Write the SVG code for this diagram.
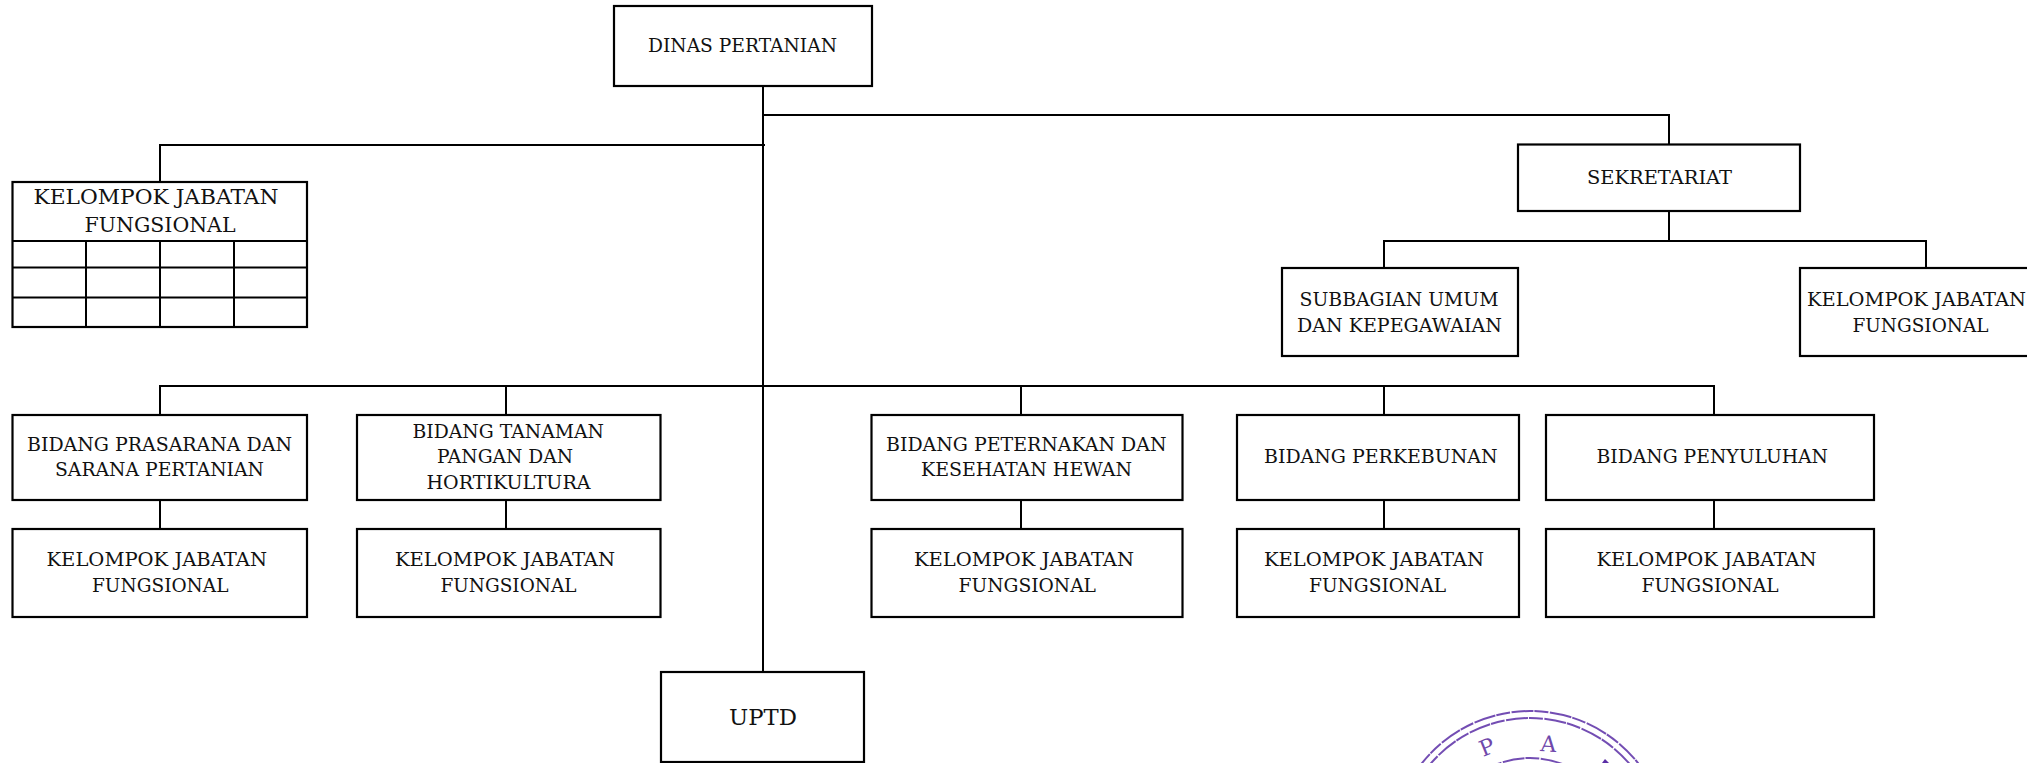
<svg xmlns="http://www.w3.org/2000/svg" width="2027" height="763" viewBox="0 0 2027 763">
<style>
.b{fill:#fff;stroke:#000;stroke-width:2.2}
.c{fill:none;stroke:#000;stroke-width:2}
.t{font-family:"DejaVu Serif","Liberation Serif",serif;font-size:18px;fill:#111}
.l{font-size:20px}
.u{font-size:23px}
.s{fill:none;stroke:#5a2ea6;stroke-width:2;stroke-dasharray:14 1.500 22 1;opacity:.85}
.st{font-family:"DejaVu Serif","Liberation Serif",serif;font-size:22px;fill:#6f48ab}
</style>
<rect width="2027" height="763" fill="#fff"/>
<g id="connectors" class="c">
<path d="M763 86V672"/>
<path d="M763 115H1669V144"/>
<path d="M765 145H160V182"/>
<path d="M1669 211V241"/>
<path d="M1384 268V241H1926V268"/>
<path d="M160 415V386H1714V415"/>
<path d="M506 386V415"/>
<path d="M1021 386V415"/>
<path d="M1384 386V415"/>
<path d="M160 500V529"/>
<path d="M506 500V529"/>
<path d="M1021 500V529"/>
<path d="M1384 500V529"/>
<path d="M1714 500V529"/>
</g>
<g id="dinas"><rect class="b" x="614" y="6" width="258" height="80"/><text class="t" x="648" y="52" textLength="189" lengthAdjust="spacingAndGlyphs">DINAS PERTANIAN</text></g>
<g id="kjf-top">
<rect class="b" x="12.500" y="182" width="294.500" height="145"/>
<path class="c" d="M12.500 241H307M12.500 267.500H307M12.500 297.500H307M86 241V327M160 241V327M234 241V327"/>
<text class="t l" x="33.500" y="204" textLength="245" lengthAdjust="spacingAndGlyphs">KELOMPOK JABATAN</text>
<text class="t l" x="84.500" y="232" textLength="151" lengthAdjust="spacingAndGlyphs">FUNGSIONAL</text>
</g>
<g id="sekretariat"><rect class="b" x="1518" y="144.500" width="282" height="66.500"/><text class="t" x="1587" y="184" textLength="145" lengthAdjust="spacingAndGlyphs">SEKRETARIAT</text></g>
<g id="subbagian"><rect class="b" x="1282" y="268" width="236" height="88"/><text class="t" x="1299.500" y="306" textLength="199" lengthAdjust="spacingAndGlyphs">SUBBAGIAN UMUM</text><text class="t" x="1297" y="332" textLength="205" lengthAdjust="spacingAndGlyphs">DAN KEPEGAWAIAN</text></g>
<g id="kjf-sekretariat"><rect class="b" x="1800" y="268" width="240" height="88"/><text class="t" x="1807" y="306" textLength="219" lengthAdjust="spacingAndGlyphs">KELOMPOK JABATAN</text><text class="t" x="1852.500" y="332" textLength="136" lengthAdjust="spacingAndGlyphs">FUNGSIONAL</text></g>
<g id="bidang-prasarana"><rect class="b" x="12.500" y="415" width="294.500" height="85"/><text class="t" x="27" y="451" textLength="265" lengthAdjust="spacingAndGlyphs">BIDANG PRASARANA DAN</text><text class="t" x="55" y="476" textLength="209" lengthAdjust="spacingAndGlyphs">SARANA PERTANIAN</text></g>
<g id="bidang-tanaman"><rect class="b" x="357" y="415" width="303.500" height="85"/><text class="t" x="412.500" y="438" textLength="191.500" lengthAdjust="spacingAndGlyphs">BIDANG TANAMAN</text><text class="t" x="437" y="463" textLength="136" lengthAdjust="spacingAndGlyphs">PANGAN DAN</text><text class="t" x="426.500" y="489" textLength="164" lengthAdjust="spacingAndGlyphs">HORTIKULTURA</text></g>
<g id="bidang-peternakan"><rect class="b" x="871.500" y="415" width="311" height="85"/><text class="t" x="886" y="451" textLength="280.500" lengthAdjust="spacingAndGlyphs">BIDANG PETERNAKAN DAN</text><text class="t" x="921" y="476" textLength="211" lengthAdjust="spacingAndGlyphs">KESEHATAN HEWAN</text></g>
<g id="bidang-perkebunan"><rect class="b" x="1237" y="415" width="282" height="85"/><text class="t" x="1264" y="463" textLength="233.500" lengthAdjust="spacingAndGlyphs">BIDANG PERKEBUNAN</text></g>
<g id="bidang-penyuluhan"><rect class="b" x="1546" y="415" width="328" height="85"/><text class="t" x="1596.500" y="463" textLength="231.500" lengthAdjust="spacingAndGlyphs">BIDANG PENYULUHAN</text></g>
<g id="kjf-1"><rect class="b" x="12.500" y="529" width="294.500" height="88"/><text class="t" x="46.500" y="566" textLength="220.500" lengthAdjust="spacingAndGlyphs">KELOMPOK JABATAN</text><text class="t" x="92" y="592" textLength="136.500" lengthAdjust="spacingAndGlyphs">FUNGSIONAL</text></g>
<g id="kjf-2"><rect class="b" x="357" y="529" width="303.500" height="88"/><text class="t" x="395" y="566" textLength="220" lengthAdjust="spacingAndGlyphs">KELOMPOK JABATAN</text><text class="t" x="440.500" y="592" textLength="136" lengthAdjust="spacingAndGlyphs">FUNGSIONAL</text></g>
<g id="kjf-3"><rect class="b" x="871.500" y="529" width="311" height="88"/><text class="t" x="914" y="566" textLength="220" lengthAdjust="spacingAndGlyphs">KELOMPOK JABATAN</text><text class="t" x="958.500" y="592" textLength="137.500" lengthAdjust="spacingAndGlyphs">FUNGSIONAL</text></g>
<g id="kjf-4"><rect class="b" x="1237" y="529" width="282" height="88"/><text class="t" x="1264" y="566" textLength="220" lengthAdjust="spacingAndGlyphs">KELOMPOK JABATAN</text><text class="t" x="1309" y="592" textLength="137" lengthAdjust="spacingAndGlyphs">FUNGSIONAL</text></g>
<g id="kjf-5"><rect class="b" x="1546" y="529" width="328" height="88"/><text class="t" x="1596.500" y="566" textLength="220" lengthAdjust="spacingAndGlyphs">KELOMPOK JABATAN</text><text class="t" x="1641.500" y="592" textLength="137" lengthAdjust="spacingAndGlyphs">FUNGSIONAL</text></g>
<g id="uptd"><rect class="b" x="661" y="672" width="203" height="90"/><text class="t u" x="729" y="725" textLength="68" lengthAdjust="spacingAndGlyphs">UPTD</text></g>
<g id="stamp">
<circle class="s" cx="1530" cy="849" r="138"/>
<circle class="s" cx="1530" cy="849" r="131"/>
<circle class="s" cx="1530" cy="849" r="91"/>
<text class="st" transform="translate(1483 757) rotate(-22)">P</text>
<text class="st" transform="translate(1540 751) rotate(4)">A</text>
<path d="M1602 763L1605 759L1609 763Z" fill="#5a2ea6"/>
</g>
</svg>
